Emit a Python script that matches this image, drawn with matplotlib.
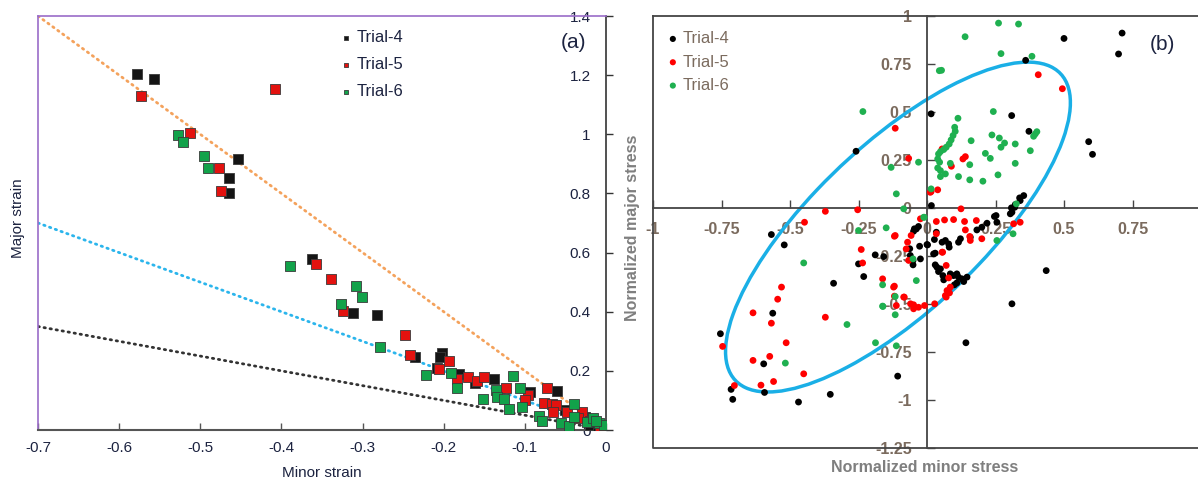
import numpy as np
import matplotlib.pyplot as plt
from matplotlib.patches import Ellipse
from matplotlib.ticker import FuncFormatter

plt.rcParams['font.family'] = ['Liberation Sans', 'DejaVu Sans']

# ---- panel (a): minor / major strain, (minor, major) pairs ----
strain_t4 = [(-0.578, 1.205), (-0.557, 1.187), (-0.454, 0.916), (-0.464, 0.851), (-0.465, 0.803),
             (-0.362, 0.577), (-0.312, 0.394), (-0.282, 0.389), (-0.236, 0.248), (-0.202, 0.261),
             (-0.204, 0.246), (-0.208, 0.21), (-0.181, 0.188), (-0.161, 0.158), (-0.138, 0.171),
             (-0.094, 0.127), (-0.061, 0.131), (-0.05, 0.068), (-0.026, 0.045), (-0.02, 0.017),
             (-0.005, 0.011), (0.0, 0.002), (-0.01, 0.005)]
strain_t5 = [(-0.573, 1.13), (-0.408, 1.152), (-0.513, 1.005), (-0.477, 0.886), (-0.475, 0.808),
             (-0.358, 0.56), (-0.339, 0.512), (-0.324, 0.402), (-0.248, 0.32), (-0.242, 0.253),
             (-0.194, 0.233), (-0.206, 0.207), (-0.184, 0.172), (-0.17, 0.18), (-0.159, 0.166),
             (-0.15, 0.18), (-0.123, 0.141), (-0.096, 0.119), (-0.1, 0.101), (-0.073, 0.141),
             (-0.077, 0.09), (-0.067, 0.088), (-0.062, 0.084), (-0.065, 0.062), (-0.048, 0.062),
             (-0.03, 0.06), (-0.034, 0.04), (-0.007, 0.006), (-0.02, 0.03)]
strain_t6 = [(-0.527, 0.996), (-0.521, 0.974), (-0.495, 0.926), (-0.491, 0.886), (-0.39, 0.556),
             (-0.308, 0.486), (-0.301, 0.45), (-0.327, 0.426), (-0.279, 0.279), (-0.222, 0.186),
             (-0.191, 0.194), (-0.184, 0.142), (-0.152, 0.104), (-0.135, 0.135), (-0.134, 0.113),
             (-0.126, 0.104), (-0.12, 0.07), (-0.114, 0.182), (-0.106, 0.141), (-0.103, 0.079),
             (-0.082, 0.047), (-0.079, 0.031), (-0.055, 0.023), (-0.045, 0.014), (-0.039, 0.088),
             (-0.04, 0.045), (-0.024, 0.028), (-0.016, 0.04), (-0.009, 0.023), (-0.003, 0.017),
             (-0.012, 0.03)]

# reference lines major = slope * minor
ref_slopes = [-2.0, -1.0, -0.5]
ref_colors = ['#f4a25c', '#2bb5ec', '#333333']

strain_xticks = [-0.7, -0.6, -0.5, -0.4, -0.3, -0.2, -0.1, 0]
strain_yticks = [0, 0.2, 0.4, 0.6, 0.8, 1, 1.2, 1.4]

# ---- panel (b): normalized minor / major stress ----
stress_t4 = [(0.015, 0.49), (-0.259, 0.295), (-0.568, -0.139), (-0.046, -0.109), (-0.031, -0.097),
             (0.5, 0.883), (0.712, 0.911), (0.699, 0.802), (0.36, 0.769), (0.59, 0.345),
             (0.604, 0.279), (0.309, 0.481), (0.372, 0.399), (0.353, 0.064), (0.338, 0.052),
             (0.34, 0.038), (0.322, 0.017), (0.308, 0.0), (0.016, 0.012), (0.246, -0.045),
             (0.255, -0.075), (0.304, -0.031), (0.182, -0.115), (0.2, -0.101), (0.219, -0.08),
             (0.31, -0.023), (0.32, 0.003), (0.252, -0.04), (-0.039, -0.11), (-0.049, -0.122),
             (-0.027, -0.2), (0.002, -0.193), (0.027, -0.165), (0.034, -0.127), (0.067, -0.17),
             (0.081, -0.205), (0.03, -0.236), (-0.061, -0.248), (-0.051, -0.274), (-0.051, -0.297),
             (-0.189, -0.245), (-0.158, -0.254), (-0.25, -0.292), (-0.231, -0.358), (0.03, -0.297),
             (0.036, -0.309), (0.049, -0.318), (0.042, -0.332), (0.058, -0.353), (0.097, -0.353),
             (0.115, -0.361), (0.128, -0.37), (0.134, -0.384), (0.146, -0.361), (0.109, -0.391),
             (0.1, -0.401), (0.31, -0.5), (0.435, -0.327), (-0.341, -0.393), (-0.521, -0.193),
             (-0.563, -0.549), (-0.754, -0.656), (-0.596, -0.813), (-0.715, -0.946), (-0.709, -0.998),
             (-0.593, -0.962), (-0.469, -1.012), (-0.353, -0.972), (-0.107, -0.877), (0.142, -0.703),
             (-0.063, -0.213), (-0.024, -0.266), (0.158, -0.153), (0.122, -0.161), (0.115, -0.179),
             (0.079, -0.188), (0.055, -0.179), (0.024, -0.24), (0.061, -0.375), (0.085, -0.344),
             (0.109, -0.344), (0.0, -0.191)]
stress_t5 = [(-0.116, 0.415), (-0.067, 0.258), (-0.371, -0.018), (-0.253, -0.01), (-0.447, -0.075),
             (-0.116, -0.144), (-0.024, -0.057), (0.406, 0.694), (0.494, 0.621), (0.015, 0.085),
             (0.039, 0.094), (0.131, 0.255), (0.14, 0.267), (0.089, 0.217), (0.055, 0.307),
             (0.012, 0.081), (0.124, -0.005), (0.034, -0.071), (0.064, -0.063), (0.097, -0.061),
             (0.137, -0.071), (0.14, -0.115), (0.18, -0.066), (0.2, -0.161), (0.156, -0.149),
             (0.316, -0.083), (0.34, -0.075), (-0.119, -0.148), (-0.058, -0.144), (-0.071, -0.179),
             (0.055, -0.231), (-0.076, -0.214), (-0.067, -0.274), (-0.24, -0.217), (-0.235, -0.287),
             (0.07, -0.3), (0.079, -0.365), (0.085, -0.413), (0.073, -0.431), (0.082, -0.443),
             (0.067, -0.457), (-0.162, -0.37), (-0.119, -0.408), (-0.119, -0.46), (-0.112, -0.509),
             (-0.049, -0.505), (-0.031, -0.518), (-0.009, -0.509), (0.028, -0.5), (-0.531, -0.413),
             (-0.545, -0.476), (-0.635, -0.547), (-0.568, -0.601), (-0.371, -0.57), (-0.514, -0.703),
             (-0.746, -0.722), (-0.635, -0.795), (-0.574, -0.774), (-0.45, -0.865), (-0.56, -0.905),
             (-0.606, -0.924), (-0.703, -0.926), (-0.122, -0.413), (-0.085, -0.465), (-0.06, -0.5),
             (-0.049, -0.526), (0.158, -0.17), (0.057, -0.231), (0.07, -0.465), (0.034, -0.135),
             (-0.083, -0.465)]
stress_t6 = [(-0.234, 0.502), (-0.131, 0.211), (-0.031, 0.238), (-0.112, 0.073), (-0.085, -0.005),
             (0.045, 0.715), (-0.25, -0.118), (-0.149, -0.104), (-0.012, -0.049), (0.261, 0.963),
             (0.334, 0.958), (0.139, 0.892), (0.27, 0.804), (0.383, 0.79), (0.053, 0.717),
             (0.242, 0.502), (0.113, 0.467), (0.401, 0.397), (0.389, 0.373), (0.395, 0.385),
             (0.377, 0.298), (0.101, 0.42), (0.103, 0.399), (0.095, 0.377), (0.088, 0.354),
             (0.081, 0.333), (0.07, 0.316), (0.061, 0.304), (0.049, 0.293), (0.042, 0.281),
             (0.039, 0.255), (0.046, 0.238), (0.039, 0.208), (0.049, 0.194), (0.049, 0.163),
             (0.067, 0.177), (0.085, 0.232), (0.115, 0.163), (0.156, 0.225), (0.161, 0.35),
             (0.156, 0.146), (0.204, 0.139), (0.213, 0.284), (0.231, 0.258), (0.237, 0.38),
             (0.264, 0.364), (0.283, 0.338), (0.27, 0.316), (0.259, 0.172), (0.322, 0.333),
             (0.322, 0.232), (0.015, 0.099), (0.326, 0.021), (-0.01, -0.049), (0.314, -0.135),
             (0.255, -0.17), (-0.051, -0.266), (-0.162, -0.401), (-0.039, -0.379), (-0.162, -0.512),
             (-0.45, -0.287), (-0.292, -0.608), (-0.517, -0.809), (-0.188, -0.703), (-0.112, -0.719),
             (-0.116, -0.462), (-0.116, -0.557), (-0.161, -0.514)]

# fitted ellipse: centre, full width/height, rotation in degrees
ell_center = (-0.106, -0.10)
ell_width, ell_height, ell_angle = 2.01, 0.707, 56.4

stress_xticks = [-1, -0.75, -0.5, -0.25, 0, 0.25, 0.5, 0.75]
stress_yticks = [-1.25, -1, -0.75, -0.5, -0.25, 0, 0.25, 0.5, 0.75, 1]

trial_names = ['Trial-4', 'Trial-5', 'Trial-6']
sq_colors = ['#151515', '#e3120f', '#12a24a']
dot_colors = ['#000000', '#ff0000', '#1fb050']

fmt = FuncFormatter(lambda v, p: '%g' % (round(v, 2) + 0.0))

fig = plt.figure(figsize=(11.98, 4.79), dpi=100)

# ================= panel (a) =================
ax1 = fig.add_axes([38 / 1198, 1 - 430 / 479, 568 / 1198, 414 / 479])
purple = '#9a6cc8'
navy = '#1c2340'
for slope, c in zip(ref_slopes, ref_colors):
    xs = np.linspace(-0.7, 0, 50)
    ax1.plot(xs, slope * xs, color=c, lw=2.0, ls=(0, (0.5, 1.7)),
             dash_capstyle='round', zorder=2)

for pts, name, c in zip([strain_t4, strain_t5, strain_t6], trial_names, sq_colors):
    arr = np.array(pts)
    ax1.scatter(arr[:, 0], arr[:, 1], s=52, marker='s', color=c,
                edgecolors='#3a3a3a', linewidths=0.6, zorder=3, label=name)

ax1.set_xlim(-0.7, 0)
ax1.set_ylim(0, 1.4)
ax1.spines['left'].set_position(('data', 0))
ax1.spines['left'].set_color('#333333')
ax1.spines['left'].set_linewidth(1.2)
ax1.spines['bottom'].set_color('#555555')
ax1.spines['bottom'].set_linewidth(1.5)
ax1.spines['top'].set_color(purple)
ax1.spines['top'].set_linewidth(1.2)
ax1.spines['right'].set_visible(False)
ax1.plot([0, 0], [0, 1], transform=ax1.transAxes, color=purple, lw=1.2, clip_on=False)

ax1.set_xticks(strain_xticks)
ax1.set_yticks(strain_yticks)
ax1.xaxis.set_major_formatter(fmt)
ax1.yaxis.set_major_formatter(fmt)
ax1.tick_params(axis='x', direction='in', length=5, width=1, colors='#555555',
                labelcolor=navy, labelsize=11, pad=8)
ax1.tick_params(axis='y', direction='in', length=5, width=1, colors='#333333',
                labelcolor=navy, labelsize=11, pad=11)
ax1.set_xlabel('Minor strain', fontsize=11, color=navy, labelpad=8)
fig.text(18 / 1198, 1 - 218 / 479, 'Major strain', rotation=90, va='center', ha='center',
         fontsize=11, color=navy)

leg1 = ax1.legend(loc='upper left', bbox_to_anchor=(0.52, 0.982), frameon=False,
                  fontsize=12, markerscale=0.45, handlelength=0.7, handletextpad=0.3,
                  labelspacing=0.72, borderaxespad=0)
for t in leg1.get_texts():
    t.set_color(navy)
ax1.text(0.942, 0.935, '(a)', transform=ax1.transAxes, fontsize=15,
         color=navy, ha='center', va='center')

# ================= panel (b) =================
ax2 = fig.add_axes([653 / 1198, 1 - 447.7 / 479, 545 / 1198, 431.7 / 479])
ax2.add_patch(Ellipse(ell_center, ell_width, ell_height, angle=ell_angle,
                      fill=False, edgecolor='#1aafe6', lw=2.5, zorder=2))
for pts, name, c in zip([stress_t4, stress_t5, stress_t6], trial_names, dot_colors):
    arr = np.array(pts)
    ax2.scatter(arr[:, 0], arr[:, 1], s=24, marker='o', color=c,
                edgecolors='none', zorder=3, label=name)

ax2.set_xlim(-1, 0.989)
ax2.set_ylim(-1.25, 1)
ax2.spines['left'].set_position(('data', 0))
ax2.spines['bottom'].set_position(('data', 0))
for sp in ['left', 'bottom', 'top']:
    ax2.spines[sp].set_color('#444444')
    ax2.spines[sp].set_linewidth(1.3)
ax2.spines['right'].set_visible(False)
ax2.plot([0, 0, 1], [1, 0, 0], transform=ax2.transAxes, color='#444444', lw=1.3,
         clip_on=False)

lab_col = '#7b6b5e'
ax2.set_xticks(stress_xticks)
ax2.set_yticks(stress_yticks)
ax2.xaxis.set_major_formatter(fmt)
ax2.yaxis.set_major_formatter(fmt)
ax2.tick_params(axis='x', direction='in', length=6, width=1, colors='#444444',
                labelcolor=lab_col, labelsize=11.5, pad=10)
ax2.tick_params(axis='y', direction='in', length=6, width=1, colors='#444444',
                labelcolor=lab_col, labelsize=11.5, pad=11)
for lab in ax2.get_xticklabels() + ax2.get_yticklabels():
    lab.set_fontweight('bold')

fig.text(925 / 1198, 1 - 467 / 479, 'Normalized minor stress', ha='center', va='center',
         fontsize=11.5, fontweight='bold', color='#7f7f7f')
fig.text(632 / 1198, 1 - 228 / 479, 'Normalized major stress', ha='center', va='center',
         rotation=90, fontsize=11.5, fontweight='bold', color='#7f7f7f')

leg2 = ax2.legend(loc='upper left', bbox_to_anchor=(0.015, 0.98), frameon=False,
                  fontsize=12, markerscale=0.9, handlelength=0.6, handletextpad=0.3,
                  labelspacing=0.5, borderaxespad=0)
for t in leg2.get_texts():
    t.set_color(lab_col)
ax2.text(0.935, 0.935, '(b)', transform=ax2.transAxes, fontsize=15,
         color=navy, ha='center', va='center')

fig.savefig('out.png', dpi=100)
